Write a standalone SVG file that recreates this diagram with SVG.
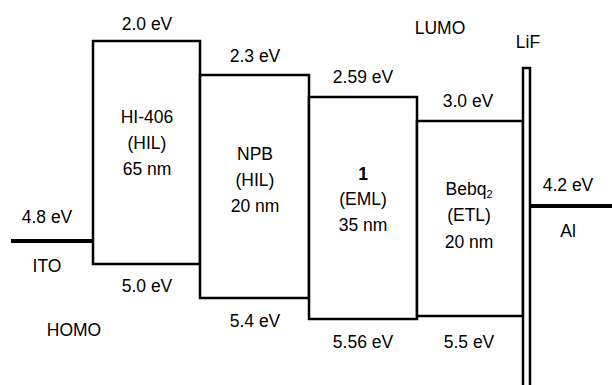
<svg xmlns="http://www.w3.org/2000/svg" width="612" height="385" viewBox="0 0 612 385">
<style>
text{font-family:"Liberation Sans",Arial,sans-serif;font-size:17.5px;fill:#000;text-anchor:middle}
.box{fill:#fff;stroke:#000;stroke-width:2.5}
.lead{stroke:#000;stroke-width:4;fill:none}
</style>
<rect width="612" height="385" fill="#fff"/>
<g id="ito">
<line class="lead" x1="11" y1="241" x2="93" y2="241"/>
<text x="47" y="223">4.8 eV</text>
<text x="47" y="272">ITO</text>
</g>
<g id="hil1">
<rect class="box" x="93" y="41" width="107" height="223"/>
<text x="147" y="30">2.0 eV</text>
<text x="147" y="123">HI-406</text>
<text x="147" y="149">(HIL)</text>
<text x="147" y="175">65 nm</text>
<text x="147" y="292">5.0 eV</text>
</g>
<g id="hil2">
<rect class="box" x="200" y="75" width="109" height="223"/>
<text x="255" y="62">2.3 eV</text>
<text x="255" y="160">NPB</text>
<text x="255" y="186">(HIL)</text>
<text x="255" y="212">20 nm</text>
<text x="255" y="327">5.4 eV</text>
</g>
<g id="eml">
<rect class="box" x="309" y="97" width="108" height="222"/>
<text x="363" y="83">2.59 eV</text>
<text x="363" y="180" font-weight="bold">1</text>
<text x="363" y="205">(EML)</text>
<text x="363" y="231">35 nm</text>
<text x="363" y="348">5.56 eV</text>
</g>
<g id="etl">
<rect class="box" x="417" y="121" width="106" height="195"/>
<text x="468" y="107">3.0 eV</text>
<text x="469" y="195">Bebq<tspan font-size="11" dy="3">2</tspan></text>
<text x="469" y="221">(ETL)</text>
<text x="469" y="248">20 nm</text>
<text x="469" y="348">5.5 eV</text>
</g>
<g id="lif">
<rect class="box" x="523" y="68" width="7" height="330"/>
<text x="528" y="48">LiF</text>
</g>
<g id="al">
<line class="lead" x1="531" y1="206" x2="612" y2="206"/>
<text x="568" y="191">4.2 eV</text>
<text x="568" y="237">Al</text>
</g>
<g id="labels">
<text x="440" y="34">LUMO</text>
<text x="74" y="336">HOMO</text>
</g>
<g id="connectors"></g>
</svg>
